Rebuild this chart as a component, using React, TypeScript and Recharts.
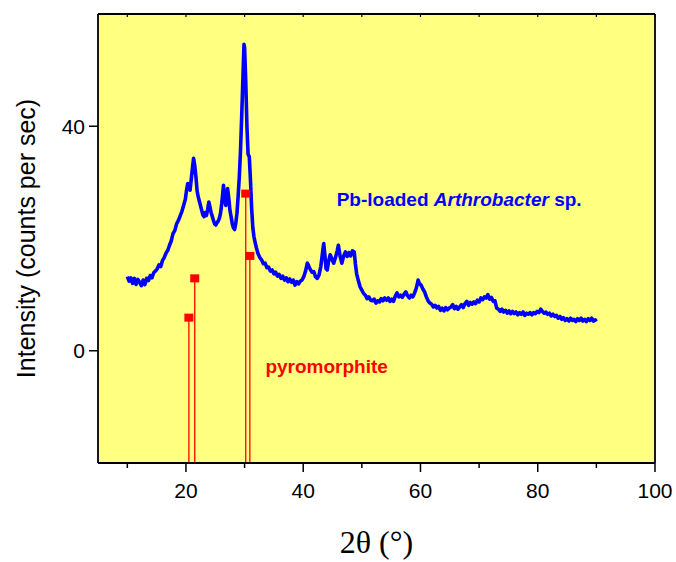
import React from 'react';
import {
  ComposedChart,
  Line,
  Scatter,
  XAxis,
  YAxis,
  ReferenceLine,
  ReferenceDot,
  CartesianGrid,
  Label,
} from 'recharts';

// 2θ (degrees) of the measured XRD pattern
const twoTheta = [
  10.0, 10.3, 10.6, 10.9, 11.2, 11.5, 11.8, 12.1, 12.4, 12.7, 13.0, 13.3, 13.6, 13.9, 14.2, 14.5, 14.8, 15.1, 15.4, 15.7,
  16.0, 16.3, 16.6, 16.9, 17.2, 17.5, 17.8, 18.1, 18.4, 18.7, 19.0, 19.3, 19.6, 19.9, 20.1, 20.3, 20.5, 20.7, 20.9, 21.1,
  21.3, 21.5, 21.7, 21.9, 22.1, 22.3, 22.5, 22.7, 22.9, 23.1, 23.3, 23.5, 23.7, 23.9, 24.1, 24.3, 24.5, 24.7, 24.9, 25.1,
  25.3, 25.5, 25.7, 25.9, 26.1, 26.3, 26.4, 26.6, 26.8, 27.0, 27.1, 27.3, 27.5, 27.7, 27.9, 28.1, 28.3, 28.5, 28.7, 28.9,
  29.1, 29.3, 29.5, 29.7, 29.9, 30.0, 30.2, 30.4, 30.6, 30.8, 31.0, 31.2, 31.4, 31.6, 31.8, 32.0, 32.3, 32.6, 32.9, 33.2,
  33.5, 33.8, 34.1, 34.4, 34.7, 35.0, 35.3, 35.6, 35.9, 36.2, 36.5, 36.8, 37.1, 37.4, 37.7, 38.0, 38.3, 38.6, 38.9, 39.2,
  39.5, 39.8, 40.1, 40.4, 40.7, 40.9, 41.2, 41.5, 41.8, 42.1, 42.4, 42.7, 43.0, 43.3, 43.5, 43.7, 43.9, 44.1, 44.3, 44.6,
  44.9, 45.2, 45.5, 45.8, 46.0, 46.3, 46.6, 46.9, 47.2, 47.5, 47.8, 48.1, 48.4, 48.7, 48.9, 49.1, 49.4, 49.7, 50.0, 50.3,
  50.6, 50.9, 51.2, 51.5, 51.8, 52.1, 52.4, 52.7, 53.0, 53.3, 53.6, 53.9, 54.2, 54.5, 54.8, 55.1, 55.4, 55.7, 56.0, 56.3,
  56.6, 56.9, 57.2, 57.5, 57.8, 58.1, 58.4, 58.7, 59.0, 59.3, 59.6, 59.8, 60.1, 60.4, 60.7, 61.0, 61.3, 61.6, 61.9, 62.2,
  62.5, 62.8, 63.1, 63.4, 63.7, 64.0, 64.3, 64.6, 64.9, 65.2, 65.5, 65.8, 66.1, 66.4, 66.7, 67.0, 67.3, 67.6, 67.9, 68.2,
  68.5, 68.8, 69.1, 69.4, 69.7, 70.0, 70.3, 70.6, 70.9, 71.2, 71.5, 71.8, 72.1, 72.4, 72.7, 73.0, 73.3, 73.6, 73.9, 74.2,
  74.5, 74.8, 75.1, 75.4, 75.7, 76.0, 76.3, 76.6, 76.9, 77.2, 77.5, 77.8, 78.1, 78.4, 78.7, 79.0, 79.3, 79.6, 79.9, 80.2,
  80.5, 80.8, 81.1, 81.4, 81.7, 82.0, 82.3, 82.6, 82.9, 83.2, 83.5, 83.8, 84.1, 84.4, 84.7, 85.0, 85.3, 85.6, 85.9, 86.2,
  86.5, 86.8, 87.1, 87.4, 87.7, 88.0, 88.3, 88.6, 88.9, 89.2, 89.5, 89.8, 90.0,
];

// Intensity (counts per sec)
const intensity = [
  13.2, 12.4, 13.0, 12.0, 12.9, 11.8, 12.7, 12.2, 11.6, 12.6, 11.8, 12.9, 12.5, 13.4, 13.0, 13.9, 14.2, 14.6, 15.3, 15.0,
  16.1, 16.6, 17.4, 17.9, 18.8, 19.6, 20.9, 21.4, 22.6, 23.2, 24.0, 24.8, 25.9, 27.0, 28.6, 29.8, 29.0, 28.6, 30.5, 32.5,
  34.3, 33.0, 31.0, 28.5, 27.4, 26.6, 25.8, 25.0, 24.2, 23.9, 24.6, 24.1, 25.2, 26.5, 25.6, 24.6, 23.9, 23.2, 22.6, 22.4,
  22.8, 23.1, 23.6, 24.5, 26.2, 28.3, 29.5, 27.0, 25.9, 27.6, 28.9, 27.2, 25.0, 23.9, 22.6, 21.9, 21.6, 22.7, 24.5, 27.5,
  31.0, 35.5, 41.5, 48.0, 54.6, 54.0, 48.0, 40.0, 35.0, 34.6, 30.5, 25.5, 22.0, 20.3, 19.3, 18.4, 17.3, 16.6, 16.2, 15.5,
  15.6, 14.8, 14.9, 14.2, 14.4, 13.7, 14.0, 13.3, 13.6, 12.9, 13.3, 12.6, 13.0, 12.3, 12.8, 12.2, 12.6, 11.7, 12.3, 11.9,
  12.4, 12.6, 13.2, 14.2, 15.6, 15.2, 14.5, 14.0, 14.1, 13.2, 12.9, 13.5, 15.0, 17.5, 19.1, 17.0, 14.6, 14.4, 15.8, 17.1,
  16.3, 15.6, 16.6, 17.8, 18.8, 16.8, 15.6, 16.9, 17.6, 16.8, 17.5, 16.9, 17.8, 17.6, 15.5, 13.8, 12.5, 11.4, 10.8, 10.2,
  9.9, 9.3, 9.6, 9.0, 8.9, 9.2, 8.5, 8.9, 8.7, 9.3, 8.9, 9.4, 9.0, 9.4, 8.8, 9.2, 8.8, 9.7, 10.3, 9.6,
  9.9, 9.5, 10.1, 10.5, 9.8, 9.4, 9.9, 9.6, 10.3, 11.2, 12.6, 12.0, 11.7, 11.0, 10.5, 9.6, 8.9, 8.5, 8.3, 7.8,
  8.1, 7.6, 7.9, 7.2, 7.6, 7.1, 7.7, 7.3, 7.6, 7.8, 8.2, 7.5, 7.9, 7.4, 7.8, 8.2, 7.7, 8.4, 8.8, 8.1,
  8.6, 8.3, 8.7, 8.4, 9.0, 8.7, 9.4, 9.1, 9.6, 9.4, 10.0, 9.2, 9.5, 8.8, 8.9, 7.6, 7.4, 7.0, 7.4, 6.9,
  7.2, 6.7, 7.1, 6.6, 7.0, 6.6, 6.9, 6.4, 6.8, 6.5, 6.9, 6.3, 6.7, 6.5, 6.8, 6.4, 6.8, 6.6, 7.0, 6.8,
  7.4, 7.0, 6.7, 6.9, 6.5, 6.7, 6.2, 6.5, 6.1, 6.3, 5.8, 6.1, 5.6, 5.9, 5.4, 5.7, 5.3, 5.8, 5.4, 5.6,
  5.2, 5.7, 5.4, 5.8, 5.3, 5.6, 5.2, 5.7, 5.4, 5.8, 5.3, 5.5, 5.2,
];

// Pyromorphite reference reflections
const stickTheta = [20.5, 21.5, 30.2, 30.9];
const stickIntensity = [5.9, 12.9, 28.0, 16.9];

const xTicks = [10, 20, 30, 40, 50, 60, 70, 80, 90, 100];
const xLabelTicks = [20, 40, 60, 80, 100];
const yTicks = [0, 40];
const xDomain = [5, 100];
const yDomain = [-20, 60];

const seriesLabel = { pre: 'Pb-loaded ', italic: 'Arthrobacter', post: ' sp.', x: 66.6, y: 27 };
const refLabel = { text: 'pyromorphite', x: 44.0, y: -2.7 };

const SANS = '"Liberation Sans", Arial, Helvetica, sans-serif';
const SERIF = '"Liberation Serif", "Times New Roman", serif';

const curve = twoTheta.map((x, i) => ({ x, y: intensity[i] }));
const sticks = stickTheta.map((x, i) => ({ x, y: stickIntensity[i] }));

const BottomTick = (props: any) => {
  const { x, y, payload } = props;
  const major = xLabelTicks.includes(payload.value);
  return (
    <g>
      <line x1={x} x2={x} y1={y} y2={y + (major ? 9 : 5)} stroke="#000" strokeWidth={1.5} />
      {major && (
        <text x={x} y={y + 35} textAnchor="middle" fontSize={21} fontFamily={SANS} fill="#000">
          {payload.value}
        </text>
      )}
    </g>
  );
};

const TopTick = (props: any) => {
  const { x, y } = props;
  return <line x1={x} x2={x} y1={y} y2={y + 3} stroke="#000" strokeWidth={1.2} />;
};

const SquareMarker = (props: any) => {
  const { cx, cy } = props;
  return <rect x={cx - 4.5} y={cy - 4} width={9} height={8} fill="#FF0000" />;
};

export default function App() {
  return (
    <div style={{ width: 676, height: 562 }}>
      <style>{'html, body { margin: 0; padding: 0; }'}</style>
      <ComposedChart width={676} height={562} margin={{ top: 0, right: 0, bottom: 0, left: 0 }}>
        <CartesianGrid
          xAxisId="bottom"
          yAxisId="left"
          horizontal={false}
          vertical={false}
          fill="#FFFF80"
          fillOpacity={1}
        />
        <XAxis
          xAxisId="bottom"
          type="number"
          dataKey="x"
          domain={xDomain}
          ticks={xTicks}
          allowDataOverflow
          height={99}
          tickSize={0}
          tickMargin={0}
          tickLine={false}
          axisLine={{ stroke: '#000', strokeWidth: 1.8 }}
          tick={<BottomTick />}
          interval={0}
        >
          <Label
            content={(p: any) => {
              const vb = p.viewBox;
              return (
                <text x={vb.x + vb.width / 2} y={vb.y + 90} textAnchor="middle" fontSize={32} fontFamily={SERIF} fill="#000">
                  2θ (°)
                </text>
              );
            }}
          />
        </XAxis>
        <XAxis
          xAxisId="top"
          orientation="top"
          type="number"
          dataKey="x"
          domain={xDomain}
          ticks={xTicks}
          allowDataOverflow
          height={14}
          tickSize={0}
          tickMargin={0}
          tickLine={false}
          axisLine={{ stroke: '#000', strokeWidth: 1.8 }}
          tick={<TopTick />}
          interval={0}
        />
        <YAxis
          yAxisId="left"
          type="number"
          domain={yDomain}
          ticks={yTicks}
          allowDataOverflow
          width={98}
          tickSize={9}
          tickMargin={4}
          tickLine={{ stroke: '#000', strokeWidth: 1.5 }}
          axisLine={{ stroke: '#000', strokeWidth: 1.8 }}
          tick={{ fontSize: 21, fill: '#000', fontFamily: SANS }}
          interval={0}
        >
          <Label
            content={(p: any) => {
              const vb = p.viewBox;
              const cx = vb.x + 26;
              const cy = vb.y + vb.height / 2;
              return (
                <text
                  x={cx}
                  y={cy}
                  dy="0.35em"
                  transform={`rotate(-90, ${cx}, ${cy})`}
                  textAnchor="middle"
                  fontSize={25}
                  fontFamily={SANS}
                  fill="#000"
                >
                  Intensity (counts per sec)
                </text>
              );
            }}
          />
        </YAxis>
        <YAxis
          yAxisId="right"
          orientation="right"
          type="number"
          domain={yDomain}
          ticks={yTicks}
          allowDataOverflow
          width={21}
          tickSize={3}
          tick={false}
          tickLine={{ stroke: '#000', strokeWidth: 1.2 }}
          axisLine={{ stroke: '#000', strokeWidth: 1.8 }}
          interval={0}
        />
        {sticks.map((s, i) => (
          <ReferenceLine
            key={i}
            xAxisId="bottom"
            yAxisId="left"
            segment={[
              { x: s.x, y: yDomain[0] },
              { x: s.x, y: s.y },
            ]}
            stroke="#FF0000"
            strokeWidth={1.3}
            ifOverflow="visible"
          />
        ))}
        <Line
          xAxisId="bottom"
          yAxisId="left"
          data={curve}
          dataKey="y"
          type="linear"
          stroke="#0000FF"
          strokeWidth={3.6}
          strokeLinejoin="round"
          dot={false}
          activeDot={false}
          isAnimationActive={false}
        />
        <Scatter
          xAxisId="bottom"
          yAxisId="left"
          data={sticks}
          dataKey="y"
          shape={<SquareMarker />}
          isAnimationActive={false}
        />
        <ReferenceDot
          xAxisId="bottom"
          yAxisId="left"
          x={seriesLabel.x}
          y={seriesLabel.y}
          r={1}
          fill="none"
          stroke="none"
          label={{
            content: (p: any) => {
              const vb = p.viewBox;
              return (
                <text
                  x={vb.x + vb.width / 2}
                  y={vb.y + vb.height / 2}
                  dy="0.35em"
                  textAnchor="middle"
                  fontSize={19}
                  fontWeight="bold"
                  fontFamily={SANS}
                  fill="#0000FF"
                >
                  {seriesLabel.pre}
                  <tspan fontStyle="italic">{seriesLabel.italic}</tspan>
                  {seriesLabel.post}
                </text>
              );
            },
          }}
        />
        <ReferenceDot
          xAxisId="bottom"
          yAxisId="left"
          x={refLabel.x}
          y={refLabel.y}
          r={1}
          fill="none"
          stroke="none"
          label={{
            content: (p: any) => {
              const vb = p.viewBox;
              return (
                <text
                  x={vb.x + vb.width / 2}
                  y={vb.y + vb.height / 2}
                  dy="0.35em"
                  textAnchor="middle"
                  fontSize={19}
                  fontWeight="bold"
                  fontFamily={SANS}
                  fill="#FF0000"
                >
                  {refLabel.text}
                </text>
              );
            },
          }}
        />
      </ComposedChart>
    </div>
  );
}
